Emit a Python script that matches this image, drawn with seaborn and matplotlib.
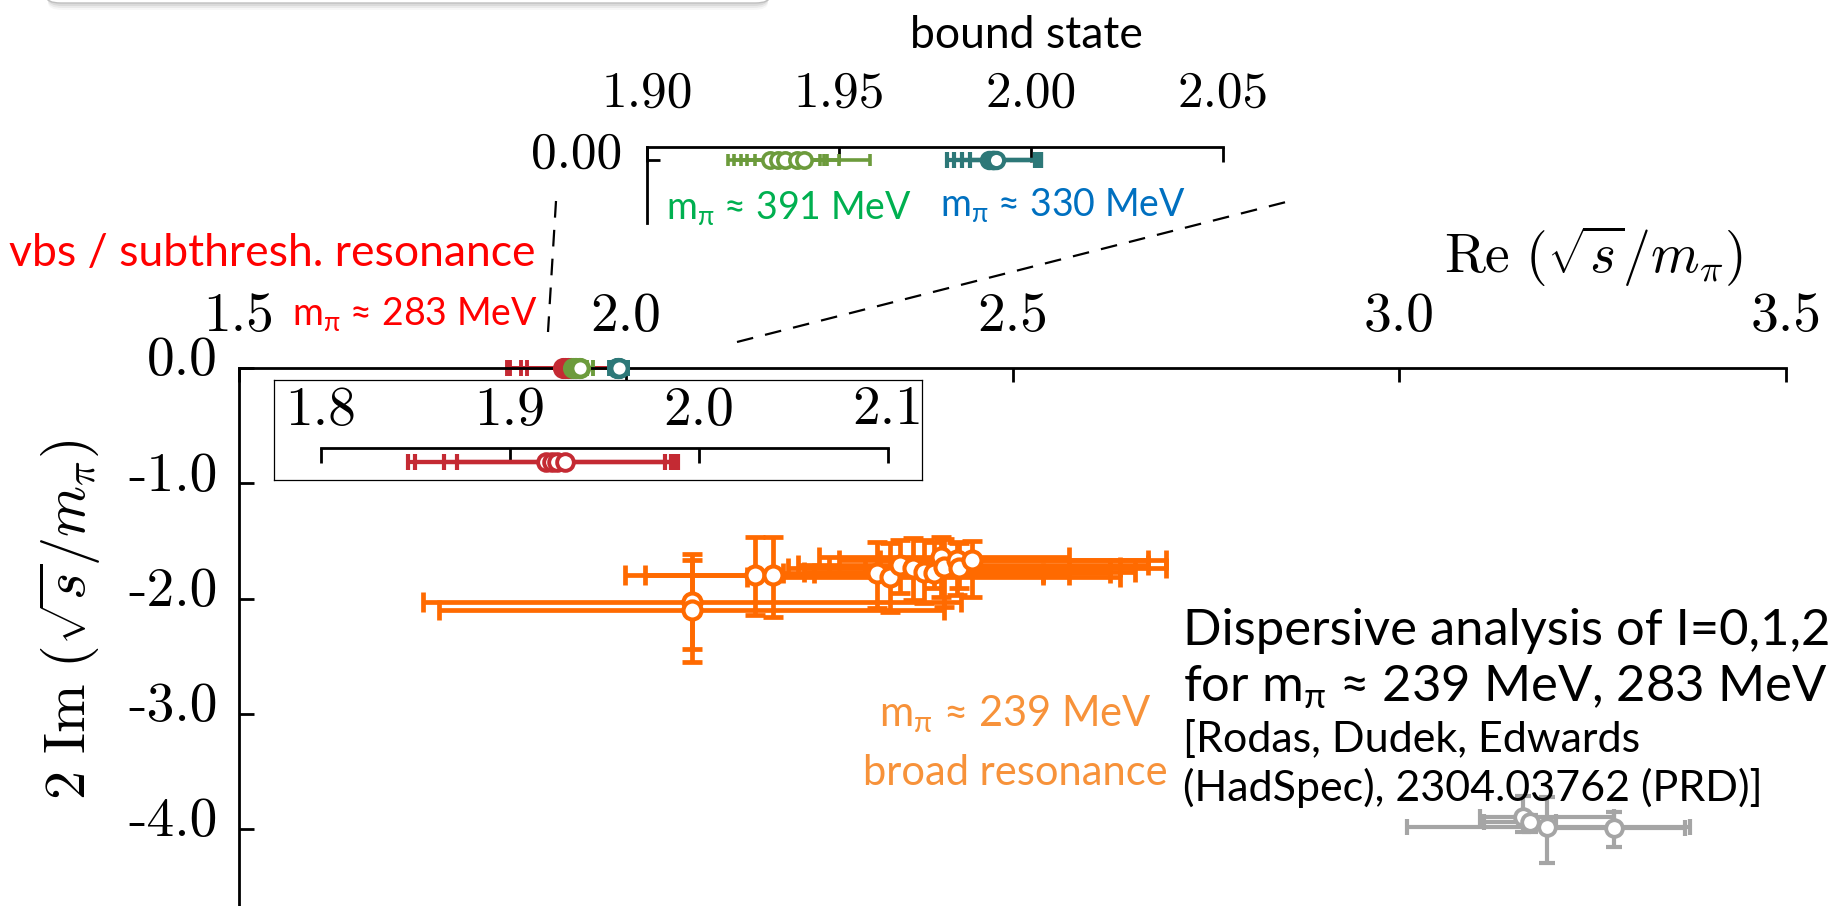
import numpy as np
import pandas as pd
import seaborn as sns
import matplotlib
matplotlib.use("Agg")
import matplotlib.pyplot as plt
from matplotlib.lines import Line2D
from matplotlib.patches import FancyBboxPatch
from matplotlib.transforms import ScaledTranslation

# ---------------- data (Re, Im of sqrt(s)/m_pi) ----------------
# m_pi ~ 283 MeV (virtual bound state / subthreshold resonance)
red_re = [1.919, 1.922, 1.925, 1.929]
red_lo = [1.846, 1.850, 1.865, 1.872]
red_hi = [1.982, 1.987, 1.989, 1.985]
# m_pi ~ 391 MeV (bound state)
green_re = [1.932, 1.934, 1.936, 1.939, 1.941]
green_lo = [1.921, 1.9226, 1.9245, 1.926, 1.928]
green_hi = [1.945, 1.946, 1.950, 1.958, 1.947]
# m_pi ~ 330 MeV (bound state)
teal_re = [1.989, 1.990, 1.990, 1.991]
teal_lo = [1.978, 1.980, 1.982, 1.984]
teal_hi = [2.0025, 2.002, 2.001, 2.0025]
# m_pi ~ 239 MeV (broad resonance)
orange_re = [2.086, 2.086, 2.167, 2.190, 2.325, 2.342, 2.355, 2.372, 2.385, 2.398, 2.408, 2.411, 2.428, 2.431, 2.447]
orange_im = [-2.027, -2.099, -1.795, -1.795, -1.781, -1.810, -1.709, -1.737, -1.766, -1.781, -1.636, -1.723, -1.665, -1.737, -1.665]
orange_re_lo = [1.738, 1.758, 1.999, 2.025, 2.203, 2.157, 2.223, 2.210, 2.230, 2.243, 2.250, 2.263, 2.276, 2.309, 2.329]
orange_re_hi = [2.434, 2.411, 2.540, 2.573, 2.626, 2.639, 2.675, 2.698, 2.659, 2.540, 2.573, 2.639, 2.675, 2.626, 2.698]
orange_im_lo = [-2.547, -2.440, -2.142, -2.157, -2.084, -2.113, -1.954, -2.012, -2.041, -1.911, -1.983, -2.070, -1.969, -1.911, -1.983]
orange_im_hi = [-1.616, -1.665, -1.463, -1.469, -1.506, -1.521, -1.492, -1.477, -1.492, -1.506, -1.463, -1.486, -1.506, -1.521, -1.497]
# grey points
grey_re = [3.160, 3.169, 3.191, 3.277]
grey_im = [-3.891, -3.935, -3.978, -3.992]
grey_re_lo = [3.104, 3.109, 3.010, 3.195]
grey_re_hi = [3.277, 3.203, 3.376, 3.369]
grey_im_lo = [-4.021, -4.021, -4.296, -4.151]
grey_im_hi = [-3.712, -3.877, -3.718, -3.848]

main_xticks = [1.5, 2.0, 2.5, 3.0, 3.5]
main_xlabels = ["1.5", "2.0", "2.5", "3.0", "3.5"]
main_yticks = [0, -1, -2, -3, -4]
main_ylabels = ["0.0", "-1.0", "-2.0", "-3.0", "-4.0"]
bs_xticks = [1.90, 1.95, 2.00, 2.05]
bs_xlabels = ["1.90", "1.95", "2.00", "2.05"]
vbs_xticks = [1.8, 1.9, 2.0, 2.1]
vbs_xlabels = ["1.8", "1.9", "2.0", "2.1"]

C_RED, C_GREEN, C_TEAL = "#C42A33", "#6C9B3C", "#2D7878"
C_ORANGE, C_GREY = "#FF6A00", "#A5A5A5"

W, H, DPI = 1849, 906, 100

sns.set_theme(style="white")
plt.rcParams["font.family"] = ["Lato", "DejaVu Sans"]
plt.rcParams["mathtext.fontset"] = "cm"
plt.rcParams["mathtext.rm"] = "Lato"
plt.rcParams["mathtext.it"] = "Lato:italic"
plt.rcParams["mathtext.bf"] = "Lato:bold"
for k in ["text.color", "axes.labelcolor", "xtick.color", "ytick.color", "axes.edgecolor"]:
    plt.rcParams[k] = "black"

fig = plt.figure(figsize=(W / DPI, H / DPI), dpi=DPI)


def fx(x):
    return x / W


def fy(y):
    return 1 - y / H


def draw(ax, re, lo, hi, im=None, ilo=None, ihi=None, color="k", lw=2.5, cap=5, ms=10, mew=2):
    re = np.asarray(re, float)
    im = np.zeros_like(re) if im is None else np.asarray(im, float)
    xerr = [re - np.asarray(lo), np.asarray(hi) - re]
    yerr = None if ilo is None else [im - np.asarray(ilo), np.asarray(ihi) - im]
    eb = ax.errorbar(re, im, xerr=xerr, yerr=yerr, fmt="none", ecolor=color,
                     elinewidth=lw, capsize=cap, capthick=lw, zorder=2)
    for a in eb.get_children():
        a.set_clip_on(False)
    df = pd.DataFrame({"re": re, "im": im})
    sns.scatterplot(data=df, x="re", y="im", ax=ax, color="white", edgecolor=color,
                    linewidth=mew, s=ms ** 2, zorder=3, clip_on=False, legend=False)


def style_axes(ax, lw=2.0):
    for s in ["bottom", "right"]:
        ax.spines[s].set_visible(False)
    for s in ["top", "left"]:
        ax.spines[s].set_linewidth(lw)
        ax.spines[s].set_color("black")
    ax.set_facecolor("none")
    ax.grid(False)


def raise_labels(labels, px):
    for lbl in labels:
        lbl.set_transform(lbl.get_transform() + ScaledTranslation(0, px / DPI, fig.dpi_scale_trans))


# ---------------- main axes ----------------
ax = fig.add_axes([fx(239), 0, 1547 / W, 538 / H])
style_axes(ax)
draw(ax, orange_re, orange_re_lo, orange_re_hi, orange_im, orange_im_lo, orange_im_hi,
     color=C_ORANGE, lw=3.4, cap=7, ms=13, mew=3.0)
draw(ax, grey_re, grey_re_lo, grey_re_hi, grey_im, grey_im_lo, grey_im_hi,
     color=C_GREY, lw=3.0, cap=6, ms=12, mew=2.8)
draw(ax, red_re, red_lo, red_hi, color=C_RED, lw=2.8, cap=5.5, ms=12, mew=3.2)
draw(ax, green_re, green_lo, green_hi, color=C_GREEN, lw=2.8, cap=5.5, ms=12, mew=3.2)
draw(ax, teal_re, teal_lo, teal_hi, color=C_TEAL, lw=2.8, cap=5.5, ms=12, mew=3.2)
ax.set_xlim(1.5, 3.5)
ax.set_ylim(-538 / 115.3, 0)
ax.xaxis.tick_top()
ax.set_xticks(main_xticks)
ax.set_xticklabels(main_xlabels, fontfamily="cmr10", fontsize=40)
ax.set_yticks(main_yticks)
ax.set_yticklabels(main_ylabels, fontfamily="cmr10", fontsize=40)
ax.tick_params(axis="x", direction="in", length=10, width=2, pad=19, top=True, bottom=False)
ax.tick_params(axis="y", direction="in", length=11, width=2, pad=15, left=True, right=False)
raise_labels(ax.get_yticklabels(), 12)
ax.set_xlabel(r"$\mathrm{Re}\ (\sqrt{s}/m_{\pi})$", fontsize=40)
ax.xaxis.set_label_position("top")
ax.xaxis.set_label_coords((1594 - 239) / 1547, 1 + (368 - 256) / 538)
ax.xaxis.label.set_va("center")
ax.set_ylabel(r"$2\ \mathrm{Im}\ (\sqrt{s}/m_{\pi})$", fontsize=42)
ax.yaxis.set_label_coords((70 - 239) / 1547, (906 - 620) / 538)
ax.yaxis.label.set_va("center")

# ---------------- bound-state inset ----------------
ax1 = fig.add_axes([fx(647), fy(223), 576 / W, 76 / H])
style_axes(ax1)
draw(ax1, green_re, green_lo, green_hi, color=C_GREEN, lw=2.6, cap=4.5, ms=11, mew=2.6)
draw(ax1, teal_re, teal_lo, teal_hi, color=C_TEAL, lw=3.0, cap=5.5, ms=11, mew=3.0)
ax1.set_xlim(1.90, 2.05)
ax1.set_ylim(-1, 0.2)
ax1.xaxis.tick_top()
ax1.set_xticks(bs_xticks)
ax1.set_xticklabels(bs_xlabels, fontfamily="cmr10", fontsize=37)
ax1.set_yticks([0])
ax1.set_yticklabels(["0.00"], fontfamily="cmr10", fontsize=37)
ax1.tick_params(axis="x", direction="in", length=11, width=2, pad=22, top=True, bottom=False)
ax1.tick_params(axis="y", direction="in", length=9, width=2, pad=18, left=True, right=False)
raise_labels(ax1.get_yticklabels(), 10)
ax1.set_xlabel("")
ax1.set_ylabel("")

# ---------------- virtual-bound-state inset ----------------
box = fig.add_axes([fx(274), fy(480), 648 / W, 100 / H])
box.set_xticks([])
box.set_yticks([])
for s in box.spines.values():
    s.set_linewidth(0.9)
    s.set_color("black")
box.set_facecolor("white")

ax2 = fig.add_axes([fx(321), fy(476), 567 / W, 28 / H])
for s in ["bottom", "right", "left"]:
    ax2.spines[s].set_visible(False)
ax2.spines["top"].set_linewidth(2)
ax2.set_facecolor("none")
draw(ax2, red_re, red_lo, red_hi, color=C_RED, lw=3.0, cap=5.5, ms=12, mew=2.8)
ax2.set_xlim(1.8, 2.1)
ax2.set_ylim(-1, 1)
ax2.xaxis.tick_top()
ax2.set_xticks(vbs_xticks)
ax2.set_xticklabels(vbs_xlabels, fontfamily="cmr10", fontsize=40)
ax2.set_yticks([])
ax2.tick_params(axis="x", direction="in", length=11, width=2, pad=9, top=True, bottom=False)
ax2.set_xlabel("")
ax2.set_ylabel("")

# ---------------- connector lines ----------------
for (x0, y0), (x1, y1) in [((556, 201), (548, 332)), ((737, 342), (1290, 201))]:
    fig.add_artist(Line2D([fx(x0), fx(x1)], [fy(y0), fy(y1)], transform=fig.transFigure,
                          color="black", lw=1.6, dashes=(7.5, 5.5)))

# ---------------- header box remnant ----------------
for off, a in [(7, 0.06), (5, 0.1), (3, 0.15)]:
    fig.add_artist(FancyBboxPatch((fx(48), fy(3 + off)), fx(720), 0.05,
                                  boxstyle="round,pad=0,rounding_size=0.008",
                                  transform=fig.transFigure, fc="#808080", ec="none", alpha=a))
fig.add_artist(FancyBboxPatch((fx(46), fy(3)), fx(724), 0.05,
                              boxstyle="round,pad=0,rounding_size=0.008",
                              transform=fig.transFigure, fc="white", ec="#BFBFBF", lw=1))

# ---------------- annotations ----------------
mp = r"m$_{\mathrm{π}}$"
T = dict(math_fontfamily="custom", va="center")
fig.text(fx(1026), fy(35), "bound state", ha="center", fontsize=32, color="black", **T)
fig.text(fx(666), fy(208), mp + " ≈ 391 MeV", ha="left", fontsize=27, color="#00B050", **T)
fig.text(fx(940), fy(205), mp + " ≈ 330 MeV", ha="left", fontsize=27, color="#0070C0", **T)
fig.text(fx(9), fy(253), "vbs / subthresh. resonance", ha="left", fontsize=32, color="#FF0000", **T)
fig.text(fx(292), fy(314), mp + " ≈ 283 MeV", ha="left", fontsize=27, color="#FF0000", **T)
fig.text(fx(1015), fy(714), mp + " ≈ 239 MeV", ha="center", fontsize=30, color="#F7923A", **T)
fig.text(fx(1015), fy(773), "broad resonance", ha="center", fontsize=30, color="#F7923A", **T)
fig.text(fx(1183), fy(631), "Dispersive analysis of I=0,1,2", ha="left", fontsize=36.5, color="black", **T)
fig.text(fx(1183), fy(687), "for " + mp + " ≈ 239 MeV, 283 MeV", ha="left", fontsize=36.5, color="black", **T)
fig.text(fx(1183), fy(739), "[Rodas, Dudek, Edwards", ha="left", fontsize=31, color="black", **T)
fig.text(fx(1183), fy(788), "(HadSpec), 2304.03762 (PRD)]", ha="left", fontsize=31, color="black", **T)

fig.savefig("out.png", dpi=DPI)
